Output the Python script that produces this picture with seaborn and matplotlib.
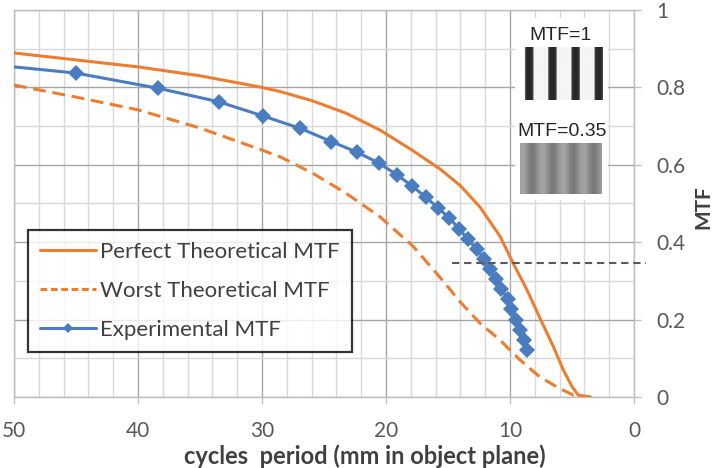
import numpy as np
import pandas as pd
import matplotlib
matplotlib.use("Agg")
import matplotlib.pyplot as plt
import seaborn as sns
from matplotlib.lines import Line2D
from matplotlib.patches import Rectangle
from matplotlib.ticker import MultipleLocator

# data
perfect_x = [50, 45, 40, 35, 30, 28.5, 25.9, 23.2, 20.5, 17.8, 15.6, 14.0, 12.4, 10.8, 9.75, 8.65, 7.6, 6.5, 5.7, 5.0, 4.5, 3.5]
perfect_y = [0.889, 0.871, 0.853, 0.830, 0.800, 0.789, 0.765, 0.733, 0.690, 0.636, 0.588, 0.546, 0.490, 0.415, 0.346, 0.278, 0.205, 0.130, 0.070, 0.027, 0.005, 0.0]

worst_x = [50, 45, 40, 35, 30, 28.5, 25.9, 23.2, 20.5, 17.8, 15.4, 14.0, 12.4, 10.8, 9.2, 7.6, 6.0, 4.9, 4.1, 3.5]
worst_y = [0.806, 0.775, 0.742, 0.695, 0.638, 0.620, 0.578, 0.526, 0.466, 0.389, 0.300, 0.245, 0.190, 0.147, 0.096, 0.052, 0.022, 0.005, 0.0, 0.0]

# first point is where the curve leaves the frame (no marker there)
exp_x = [50, 45, 38.4, 33.5, 29.9, 26.9, 24.4, 22.3, 20.6, 19.1, 17.9, 16.8, 15.8, 14.9, 14.1,
         13.4, 12.7, 12.1, 11.6, 11.1, 10.7, 10.2, 9.9, 9.5, 9.2, 8.9, 8.6]
exp_y = [0.853, 0.837, 0.798, 0.763, 0.726, 0.694, 0.660, 0.632, 0.605, 0.574, 0.545, 0.517, 0.488, 0.463, 0.434,
         0.408, 0.382, 0.357, 0.330, 0.305, 0.279, 0.253, 0.227, 0.199, 0.173, 0.147, 0.121]

thresh_x = [14.7, -1.0]
thresh_y = [0.345, 0.345]

x_ticks = [50, 40, 30, 20, 10, 0]
y_ticks = [0, 0.2, 0.4, 0.6, 0.8, 1]
y_labels = ["0", "0.2", "0.4", "0.6", "0.8", "1"]

series_names = ["Perfect Theoretical MTF", "Worst Theoretical MTF", "Experimental MTF"]

# grey levels of the two pattern insets
bar_profile = [245, 70, 45, 40, 40, 40, 40, 45, 70, 245, 245, 245, 245, 245, 245, 245, 245, 245, 245, 245, 245, 245]
soft_profile = [158, 162, 164, 162, 158, 152, 146, 140, 134, 128, 124, 122, 122, 124, 128, 134, 140, 146, 152, 156]

orange = "#ED7D31"
blue = "#4A7CC0"

sns.set_theme(style="white")
plt.rcParams["font.family"] = ["Lato", "DejaVu Sans"]

fig = plt.figure(figsize=(7.14, 4.68), dpi=100)
ax = fig.add_axes([14 / 714, 1 - 397 / 468, 620 / 714, 387 / 468])

df_p = pd.DataFrame({"x": perfect_x, "y": perfect_y})
df_w = pd.DataFrame({"x": worst_x, "y": worst_y})
df_e = pd.DataFrame({"x": exp_x, "y": exp_y})
df_t = pd.DataFrame({"x": thresh_x, "y": thresh_y})

sns.lineplot(data=df_p, x="x", y="y", ax=ax, color=orange, lw=2.2, sort=False, zorder=3)
sns.lineplot(data=df_w, x="x", y="y", ax=ax, color=orange, lw=2.2, sort=False, zorder=3,
             linestyle=(0, (4.2, 2.2)))
sns.lineplot(data=df_e, x="x", y="y", ax=ax, color=blue, lw=2.2, sort=False, zorder=4,
             marker="D", markersize=8, markeredgewidth=0, markevery=list(range(1, len(exp_x))))
sns.lineplot(data=df_t, x="x", y="y", ax=ax, color="#595959", lw=1.5, sort=False, zorder=4,
             linestyle=(0, (3.5, 2.3)), clip_on=False)

ax.set_xlim(50, 0)
ax.set_ylim(0, 1)
ax.set_xticks(x_ticks)
ax.set_yticks(y_ticks)
ax.set_yticklabels(y_labels)
ax.xaxis.set_minor_locator(MultipleLocator(2))
ax.yaxis.set_minor_locator(MultipleLocator(0.1))
ax.set_axisbelow(True)
ax.grid(which="major", color="#A6A6A6", lw=1.0)
ax.grid(which="minor", color="#D9D9D9", lw=1.0)

ax.yaxis.tick_right()
ax.tick_params(axis="both", which="major", direction="out", length=5, width=1,
               color="#BFBFBF", labelcolor="#595959", labelsize=15)
ax.tick_params(axis="x", which="major", bottom=True, pad=12)
ax.tick_params(axis="y", which="major", right=True, left=False, pad=11)
ax.tick_params(which="minor", length=0)
for s in ax.spines.values():
    s.set_color("#BFBFBF")
    s.set_linewidth(1)

ax.set_xlabel("cycles  period (mm in object plane)", fontsize=17, fontweight="bold", color="#404040")
ax.xaxis.set_label_coords(0.566, -0.122)
ax.yaxis.set_label_position("right")
ax.set_ylabel("MTF", fontsize=15, fontweight="bold", color="#404040")
ax.yaxis.label.set_verticalalignment("center")
ax.yaxis.label.set_horizontalalignment("center")
ax.yaxis.set_label_coords(1.112, 0.49)

# legend
handles = [
    Line2D([], [], color=orange, lw=2.2),
    Line2D([], [], color=orange, lw=2.2, linestyle=(0, (2.2, 1.2))),
    Line2D([], [], color=blue, lw=2.2, marker="D", markersize=5, markeredgewidth=0),
]
leg = ax.legend(handles, series_names, loc="upper left", bbox_to_anchor=(0.0226, 0.4315),
                fontsize=16, frameon=True, fancybox=False, edgecolor="black",
                handlelength=2.5, handletextpad=0.2, labelspacing=0.85, borderpad=0.55,
                borderaxespad=0, labelcolor="#404040")
leg.get_frame().set_linewidth(1.6)
leg.set_zorder(5)

# pattern insets
ax.add_patch(Rectangle((0.808, 0.509), 0.150, 0.470, transform=ax.transAxes,
                       facecolor="white", edgecolor="none", zorder=2))
ax.text(0.881, 0.935, "MTF=1", transform=ax.transAxes, ha="center", va="center",
        fontsize=14, family="Liberation Sans", color="#262626", zorder=3)
ax.text(0.884, 0.685, "MTF=0.35", transform=ax.transAxes, ha="center", va="center",
        fontsize=14, family="Liberation Sans", color="#262626", zorder=3)

bars = np.tile(np.array(bar_profile, dtype=float), 4)[:-13]
ins1 = ax.inset_axes([0.822, 0.767, 0.127, 0.137])
ins1.imshow(bars[None, :], cmap="gray", vmin=0, vmax=255, aspect="auto", interpolation="bilinear")
ins1.axis("off")

soft = np.tile(np.array(soft_profile, dtype=float), 4)[:82]
ins2 = ax.inset_axes([0.816, 0.525, 0.132, 0.131])
ins2.imshow(soft[None, :], cmap="gray", vmin=0, vmax=255, aspect="auto", interpolation="bilinear")
ins2.axis("off")

fig.savefig("out.png", dpi=100)
